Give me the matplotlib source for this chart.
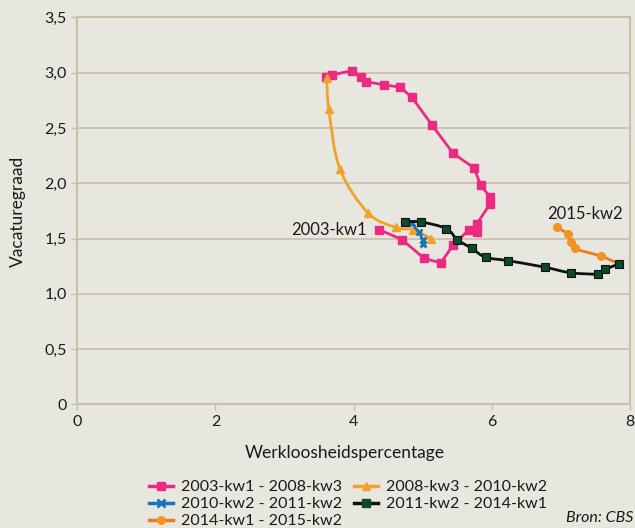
import numpy as np
import matplotlib
matplotlib.use("Agg")
import matplotlib.pyplot as plt
from matplotlib.path import Path
from matplotlib.patches import PathPatch
from matplotlib.lines import Line2D

plt.rcParams['font.family'] = ['Lato', 'DejaVu Sans']

# 2003-kw1 - 2008-kw3
pink_x = [4.37, 4.70, 5.02, 5.26, 5.44, 5.67, 5.78, 5.78, 5.97, 5.97, 5.84,
          5.74, 5.44, 5.13, 4.84, 4.67, 4.44, 4.18, 4.11, 3.98, 3.69, 3.60]
pink_y = [1.58, 1.49, 1.32, 1.28, 1.44, 1.58, 1.56, 1.63, 1.81, 1.88, 1.98,
          2.14, 2.27, 2.53, 2.78, 2.87, 2.89, 2.92, 2.96, 3.02, 2.98, 2.96]

# 2008-kw3 - 2010-kw2
yellow_x = [3.61, 3.64, 3.80, 4.21, 4.61, 4.86, 5.12]
yellow_y = [2.95, 2.67, 2.13, 1.73, 1.60, 1.58, 1.50]

# 2010-kw2 - 2011-kw2
blue_x = [5.00, 5.00, 4.94, 4.84, 4.74]
blue_y = [1.45, 1.49, 1.56, 1.64, 1.65]

# 2011-kw2 - 2014-kw1
black_x = [4.74, 4.97, 5.34, 5.50, 5.71, 5.91, 6.23, 6.77, 7.14, 7.54, 7.64, 7.84]
black_y = [1.65, 1.65, 1.59, 1.49, 1.41, 1.33, 1.30, 1.24, 1.19, 1.18, 1.22, 1.27]

# 2014-kw1 - 2015-kw2
orange_x = [7.84, 7.58, 7.20, 7.14, 7.10, 6.94]
orange_y = [1.27, 1.34, 1.41, 1.47, 1.54, 1.60]

labels = ['2003-kw1 - 2008-kw3', '2008-kw3 - 2010-kw2', '2010-kw2 - 2011-kw2',
          '2011-kw2 - 2014-kw1', '2014-kw1 - 2015-kw2']

bg = '#E8E7DF'
grid_c = '#C9BEA8'
txt = '#1A1A1A'


def smooth_path(x, y, t=0.5):
    # Catmull-Rom through the points, drawn as cubic bezier segments
    p = np.column_stack([x, y])
    verts = [p[0]]
    codes = [Path.MOVETO]
    n = len(p)
    for i in range(n - 1):
        p0 = p[i - 1] if i > 0 else p[i]
        p1, p2 = p[i], p[i + 1]
        p3 = p[i + 2] if i + 2 < n else p[i + 1]
        c1 = p1 + (p2 - p0) * t / 3
        c2 = p2 - (p3 - p1) * t / 3
        verts += [c1, c2, p2]
        codes += [Path.CURVE4] * 3
    return Path(verts, codes)


fig = plt.figure(figsize=(6.35, 5.28), dpi=100, facecolor=bg)
ax = fig.add_axes([0.1217, 0.2343, 0.8705, 0.7326], facecolor=bg)

ax.plot(pink_x, pink_y, color='#EC2A82', lw=2, marker='s', ms=5.8, zorder=3)

ax.add_patch(PathPatch(smooth_path(yellow_x, yellow_y), fc='none', ec='#F2A12B', lw=2, zorder=4))
ax.plot(yellow_x, yellow_y, ls='none', color='#F2A12B', marker='^', ms=6, zorder=4)

ax.plot(blue_x, blue_y, color='#1B74B8', lw=2, marker='x', ms=5, mew=2, zorder=5)

ax.add_patch(PathPatch(smooth_path(black_x, black_y), fc='none', ec='#111111', lw=2, zorder=6))
ax.plot(black_x, black_y, ls='none', marker='s', ms=5.5, color='#0C4A2C', mec='#111111', mew=0.8, zorder=6)

ax.add_patch(PathPatch(smooth_path(orange_x, orange_y), fc='none', ec='#EC7A24', lw=2, zorder=5))
ax.plot(orange_x, orange_y, ls='none', marker='o', ms=5.5, color='#F39320', zorder=5)

ax.text(4.19, 1.58, '2003-kw1', ha='right', va='center', fontsize=12, color=txt)
ax.text(6.80, 1.72, '2015-kw2', ha='left', va='center', fontsize=12, color=txt)

ax.set_xlim(0, 8)
ax.set_ylim(0, 3.5)
ax.set_xticks([0, 2, 4, 6, 8])
ax.set_xticklabels(['0', '2', '4', '6', '8'])
ax.set_yticks(np.arange(0, 3.51, 0.5))
ax.set_yticklabels(['0', '0,5', '1,0', '1,5', '2,0', '2,5', '3,0', '3,5'])
ax.grid(axis='y', color=grid_c, lw=1.2)
ax.set_axisbelow(True)
for s in ax.spines.values():
    s.set_color(grid_c)
    s.set_linewidth(1.5)
ax.tick_params(colors=grid_c, labelcolor=txt, labelsize=11.5, length=4, width=1)

ax.set_xlabel('Werkloosheidspercentage', fontsize=12.5, color=txt)
ax.xaxis.set_label_coords(0.483, -0.104)
ax.set_ylabel('Vacaturegraad', fontsize=12.5, color=txt, labelpad=13)

colors_l = ['#EC2A82', '#F2A12B', '#1B74B8', '#111111', '#EC7A24']
markers_l = ['s', '^', 'x', 's', 'o']
mfc_l = ['#EC2A82', '#F2A12B', '#1B74B8', '#0C4A2C', '#F39320']
handles = [Line2D([], [], color=c, marker=m, mfc=f, mec=f, lw=2.5, ms=5.5, mew=2 if m == 'x' else 1)
           for c, m, f in zip(colors_l, markers_l, mfc_l)]
order = [0, 2, 4, 1, 3]
fig.legend([handles[i] for i in order], [labels[i] for i in order], ncol=2,
           loc='upper left', bbox_to_anchor=(0.234, 0.091), frameon=False,
           fontsize=11.5, handlelength=1.5, handletextpad=0.5, columnspacing=0.8,
           labelspacing=0.18, borderaxespad=0, borderpad=0, labelcolor=txt)

fig.text(0.997, 0.005, 'Bron: CBS', ha='right', va='bottom', fontsize=11.5, style='italic', color=txt)

fig.savefig('out.png', dpi=100, facecolor=bg)
